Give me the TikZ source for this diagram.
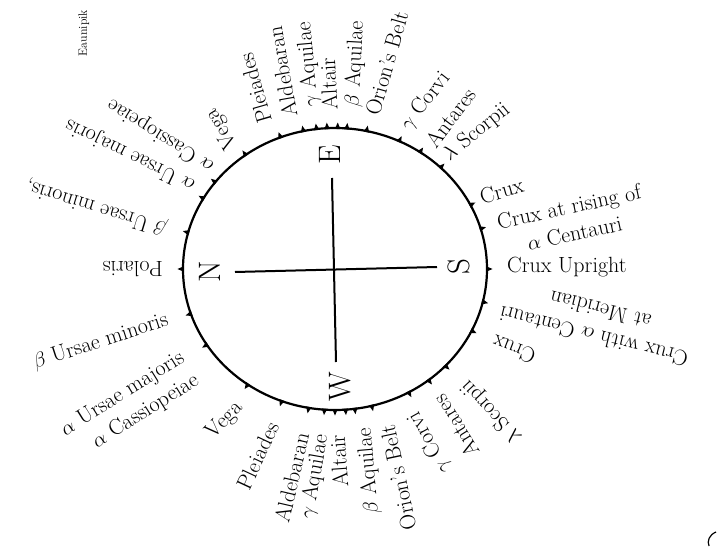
\documentclass[tikz,border=0pt]{standalone}
\begin{document}
\begin{tikzpicture}[x=1pt,y=1pt,
  lab/.style={font=\fontsize{22}{27}\selectfont, inner sep=0pt},
  outlab/.style={lab, anchor=west},
  inlab/.style={lab, anchor=east},
  dir/.style={font=\fontsize{31}{31}\selectfont, inner sep=0pt, rotate=90},
  rim/.style={line width=2.2pt},
  arm/.style={line width=2pt},
  tickmark/.style={fill=black}]
\useasboundingbox (-335,-277) rectangle (382,269);
% rim of the star compass
\draw[rim] (0,0) ellipse [x radius=152, y radius=141];
\foreach \t in {180,165,150,142,126,111,102,97,93,89,85.5,78,65,56,46,27,16.6,0,
                198.5,212.5,235,249.5,260,266,270,274,277.5,284,299,308,316.6,334,346.5}
  \fill[tickmark, shift={(\t:152 and 141)}, rotate=\t] (-1,-2.8) -- (5.5,0) -- (-1,2.8) -- cycle;
% cardinal points
\node[dir] (N) at (-125,-3) {N};
\node[dir] (E) at (-5,114) {E};
\node[dir] (S) at (124,2) {S};
\node[dir] (W) at (5,-118) {W};
\coordinate (hl) at (-100,-3);
\coordinate (hr) at (102,2);
\coordinate (vt) at (-3,91);
\coordinate (vb) at (1,-93);
\draw[arm] (hl) -- (hr);
\draw[arm] (vt) -- (vb);
% rising points (E side)
\node[outlab, rotate=180] (polaris) at (-172,0) {Polaris};
\node[outlab, rotate=163] (bumi1) at (-168,40) {$\beta$ Ursae minoris,};
\node[outlab, rotate=154] (auma1) at (-141,83) {$\alpha$ Ursae majoris};
\node[outlab, rotate=148] (acas1) at (-123,101) {$\alpha$ Cassiopeiae};
\node[outlab, rotate=121] (vega1) at (-102,122) {Vega};
\node[outlab, rotate=106] (plei1) at (-70,146) {Pleiades};
\node[outlab, rotate=100] (alde1) at (-45,152) {Aldebaran};
\node[outlab, rotate=95] (gaql1) at (-23,162) {$\gamma$ Aquilae};
\node[outlab, rotate=93] (alta1) at (-5,159) {Altair};
\node[outlab, rotate=87] (baql1) at (18,162) {$\beta$ Aquilae};
\node[outlab, rotate=74] (orio1) at (37,154) {Orion's Belt};
\node[outlab, rotate=52] (gcrv1) at (70,141) {$\gamma$ Corvi};
\node[outlab, rotate=53] (anta1) at (95,124) {Antares};
\node[outlab, rotate=39] (lsco1) at (111,112) {$\lambda$ Scorpii};
\node[outlab, rotate=16] (crux1) at (145,72) {Crux};
\node[outlab, rotate=12, align=center] (cruxr) at (165,34) {Crux at rising of\\$\alpha$ Centauri};
\node[outlab, rotate=0] (cruxu) at (172,2) {Crux Upright};
% setting points (W side)
\node[inlab, rotate=18] (bumi2) at (-167,-51) {$\beta$ Ursae minoris};
\node[inlab, rotate=32, align=right] (auma2) at (-145,-99) {$\alpha$ Ursae majoris\\$\alpha$ Cassiopeiae};
\node[inlab, rotate=45] (vega2) at (-95,-136) {Vega};
\node[inlab, rotate=65] (plei2) at (-62,-154) {Pleiades};
\node[inlab, rotate=77] (alde2) at (-33,-164) {Aldebaran};
\node[inlab, rotate=80] (gaql2) at (-13,-166) {$\gamma$ Aquilae};
\node[inlab, rotate=94] (alta2) at (2,-166) {Altair};
\node[inlab, rotate=95] (baql2) at (30,-159) {$\beta$ Aquilae};
\node[inlab, rotate=102] (orio2) at (52,-156) {Orion's Belt};
\node[inlab, rotate=119] (gcrv2) at (78,-144) {$\gamma$ Corvi};
\node[inlab, rotate=122] (anta2) at (103,-128) {Antares};
\node[inlab, rotate=133] (lsco2) at (130,-114) {$\lambda$ Scorpii};
\node[inlab, rotate=159] (crux2) at (158,-73) {Crux};
\node[inlab, rotate=166, align=center] (cruxm) at (168,-31) {Crux with $\alpha$ Centauri\\at Meridian};
% caption and stray mark
\node[font=\fontsize{12}{12}\selectfont, rotate=90, inner sep=0pt] (eau) at (-251,236) {Eaunipik};
\draw[line width=1.2pt] (381,-263) .. controls (374,-266) and (372,-272) .. (374,-277);
\end{tikzpicture}
\end{document}
